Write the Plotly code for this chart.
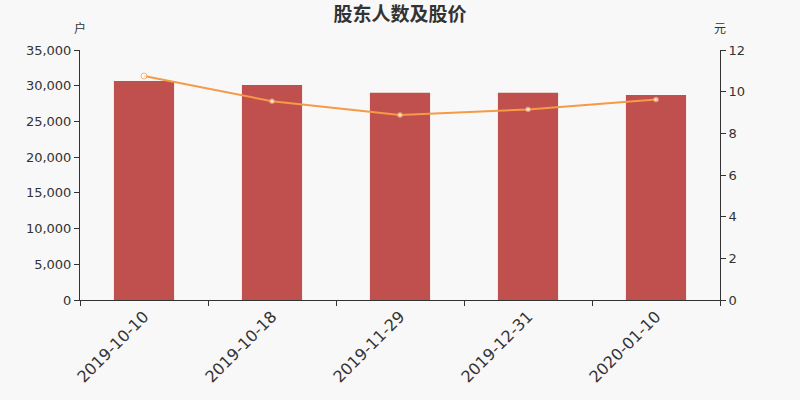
import plotly.graph_objects as go

# data
dates = ["2019-10-10", "2019-10-18", "2019-11-29", "2019-12-31", "2020-01-10"]
holders = [30650, 30100, 29000, 29000, 28700]
prices = [10.75, 9.54, 8.88, 9.15, 9.62]

bar_color = "#c0504d"
line_color = "#f59a45"
bg = "#f8f8f8"
axis_font = dict(family="DejaVu Sans", size=13, color="#333333")

fig = go.Figure()
fig.add_trace(go.Bar(x=dates, y=holders, name="股东人数",
                     marker=dict(color=bar_color, line=dict(width=0)),
                     width=0.47, yaxis="y"))
fig.add_trace(go.Scatter(x=dates, y=prices, name="股价", mode="lines+markers",
                         line=dict(color=line_color, width=2),
                         marker=dict(size=[6, 5, 5, 5, 5], color="white",
                                     line=dict(color=line_color, width=1)),
                         yaxis="y2"))

fig.update_layout(
    width=800, height=400,
    margin=dict(l=80, r=80, t=50, b=100),
    paper_bgcolor=bg, plot_bgcolor=bg,
    showlegend=False,
    title=dict(text="<b>股东人数及股价</b>", x=0.5, xanchor="center",
               yref="container", y=0.963, yanchor="middle",
               font=dict(family="Noto Sans CJK SC", size=19, color="#333333")),
    xaxis=dict(type="category", tickson="boundaries", ticks="outside", ticklen=5,
               tickcolor="#333333", showline=True, linecolor="#333333", linewidth=1,
               showgrid=False, tickangle=-45,
               tickfont=dict(family="DejaVu Sans", size=16, color="#333333")),
    yaxis=dict(range=[0, 35000], dtick=5000, tickformat=",d", ticks="outside", ticklen=5,
               tickcolor="#333333", showline=True, linecolor="#333333", linewidth=1,
               showgrid=False, zeroline=False, tickfont=axis_font),
    yaxis2=dict(range=[0, 12], dtick=2, overlaying="y", side="right", ticks="outside",
                ticklen=5, tickcolor="#333333", showline=True, linecolor="#333333",
                linewidth=1, showgrid=False, zeroline=False, tickfont=axis_font),
    annotations=[
        dict(text="户", xref="paper", yref="paper", x=0, y=1, yshift=12,
             xanchor="center", yanchor="bottom", showarrow=False,
             font=dict(family="Noto Sans CJK SC", size=12, color="#333333")),
        dict(text="元", xref="paper", yref="paper", x=1, y=1, yshift=12,
             xanchor="center", yanchor="bottom", showarrow=False,
             font=dict(family="Noto Sans CJK SC", size=12, color="#333333")),
    ],
)

# drop the default page margin so the chart sits at the window's corner
fig.write_html("out.html", config={"displayModeBar": False},
               post_script="document.body.style.margin='0';")
